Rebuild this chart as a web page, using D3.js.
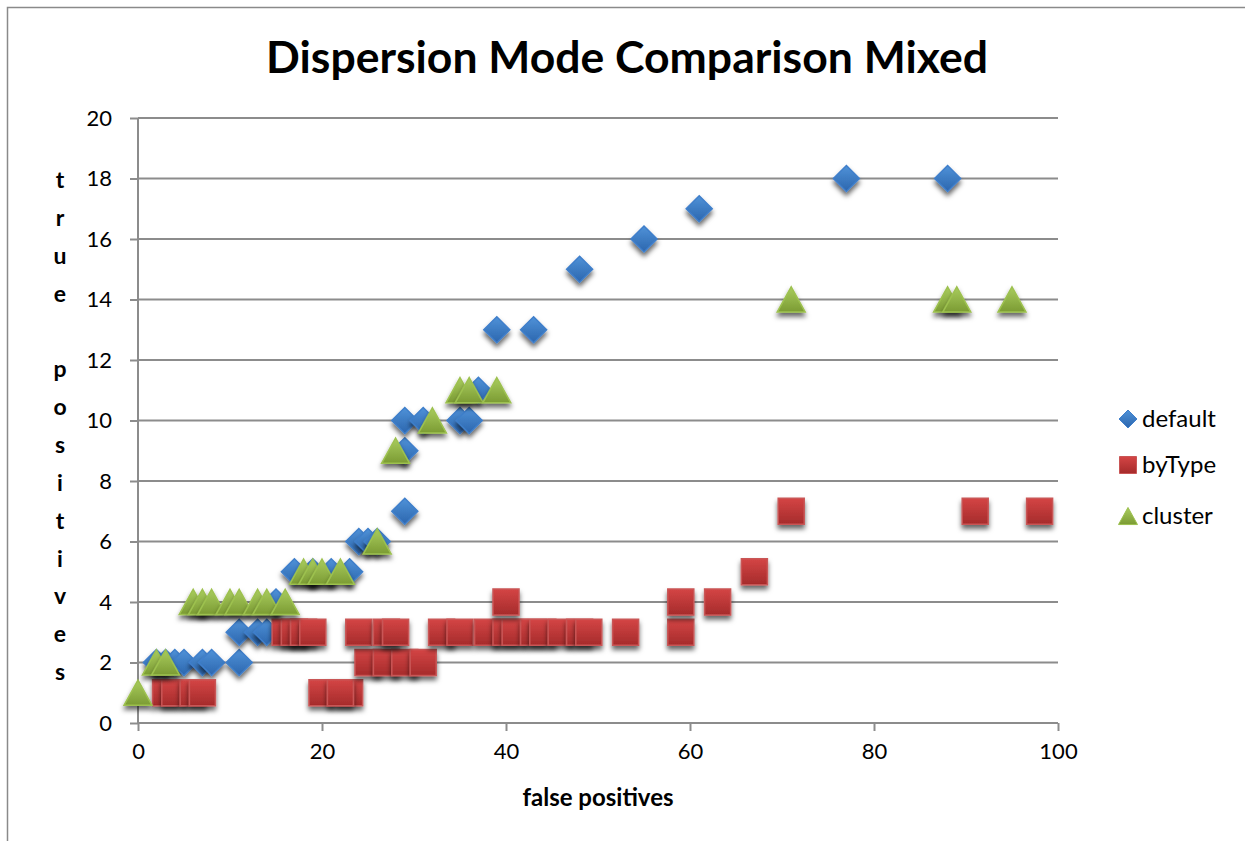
<!DOCTYPE html>
<html>
<head>
<meta charset="utf-8">
<script src="https://cdn.jsdelivr.net/npm/d3@7/dist/d3.min.js"></script>
<style>
  html, body { margin: 0; padding: 0; background: #fff; }
  svg { display: block; }
  text { font-family: Lato, "Open Sans", "DejaVu Sans", sans-serif; fill: #000; }
</style>
</head>
<body>
<svg id="chart" width="1245" height="841"></svg>
<script>
// ---- data: [false positives, true positives] ----
const defaultPts = [
  [2,2],[3,2],[4,2],[5,2],[7,2],[8,2],[11,2],
  [11,3],[13,3],[14,3],[15,4],
  [17,5],[19,5],[21,5],[23,5],
  [24,6],[25,6],[26,6],
  [29,7],[29,9],[29,10],[31,10],[35,10],[36,10],[37,11],
  [39,13],[43,13],[48,15],[55,16],[61,17],[77,18],[88,18]
];
const byTypePts = [
  [3,1],[4,1],[6,1],[7,1],
  [20,1],[23,1],[22,1],
  [25,2],[27,2],[29,2],[31,2],
  [16,3],[17,3],[18,3],[19,3],[24,3],[27,3],[28,3],
  [33,3],[35,3],[38,3],[40,3],[41,3],[43,3],[44,3],[46,3],[48,3],[49,3],[53,3],[59,3],
  [40,4],[59,4],[63,4],[67,5],
  [71,7],[91,7],[98,7]
];
const clusterPts = [
  [0,1],[2,2],[3,2],
  [6,4],[7,4],[8,4],[10,4],[11,4],[13,4],[14,4],[16,4],
  [18,5],[19,5],[20,5],[22,5],
  [26,6],[28,9],[32,10],[35,11],[36,11],[39,11],
  [71,14],[88,14],[89,14],[95,14]
];
const seriesNames = ["default", "byType", "cluster"];
const xTicks = [0, 20, 40, 60, 80, 100];
const yTicks = [0, 2, 4, 6, 8, 10, 12, 14, 16, 18, 20];
const titleText = "Dispersion Mode Comparison Mixed";
const xTitle = "false positives";
const yTitle = "true positives";

// ---- layout ----
const svg = d3.select("#chart");
const plot = { left: 138, right: 1058, top: 118, bottom: 723 };
const x = d3.scaleLinear().domain([0, 100]).range([plot.left, plot.right]);
const y = d3.scaleLinear().domain([0, 20]).range([plot.bottom, plot.top]);

// custom marker shapes for d3.symbol (size = full width in px)
const diamond = { draw(ctx, s) { const h = s / 2; ctx.moveTo(0, -h); ctx.lineTo(h, 0); ctx.lineTo(0, h); ctx.lineTo(-h, 0); ctx.closePath(); } };
const square  = { draw(ctx, s) { const h = s / 2; ctx.rect(-h, -h, s, s); } };
const triangle = { draw(ctx, s) { const w = s / 2, hh = s * 0.45; ctx.moveTo(0, -hh); ctx.lineTo(w, hh); ctx.lineTo(-w, hh); ctx.closePath(); } };

const defs = svg.append("defs");
function grad(id, top, bottom) {
  const g = defs.append("linearGradient").attr("id", id).attr("x1", 0).attr("y1", 0).attr("x2", 0).attr("y2", 1);
  g.append("stop").attr("offset", "0%").attr("stop-color", top);
  g.append("stop").attr("offset", "100%").attr("stop-color", bottom);
}
grad("gBlue", "#4f92d8", "#2c66ae");
grad("gRed", "#d44545", "#a52b2b");
grad("gGreen", "#a9cc5e", "#7b9b33");

const shadow = defs.append("filter").attr("id", "shadow")
  .attr("x", "-50%").attr("y", "-50%").attr("width", "200%").attr("height", "220%");
shadow.append("feDropShadow").attr("dx", 0).attr("dy", 4).attr("stdDeviation", 2.5)
  .attr("flood-color", "#000").attr("flood-opacity", 0.6);

// outer chart frame
svg.append("rect").attr("x", 7.5).attr("y", 7.5).attr("width", 1260).attr("height", 860)
  .attr("fill", "#fff").attr("stroke", "#8a8a8a").attr("stroke-width", 1.5);

// title
svg.append("text").attr("x", 627).attr("y", 73).attr("text-anchor", "middle")
  .attr("font-size", 44.5).attr("font-weight", 700).text(titleText);

// gridlines
svg.append("g").selectAll("line").data(yTicks).join("line")
  .attr("x1", plot.left).attr("x2", plot.right)
  .attr("y1", d => y(d)).attr("y2", d => y(d))
  .attr("stroke", "#8c8c8c").attr("stroke-width", 2);

// y axis
const yAxis = svg.append("g").attr("transform", `translate(${plot.left},0)`)
  .call(d3.axisLeft(y).tickValues(yTicks).tickSize(8).tickPadding(18));
yAxis.select(".domain").attr("stroke", "#8c8c8c").attr("stroke-width", 2).attr("d", `M0,${plot.top}V${plot.bottom}`);
yAxis.selectAll(".tick line").attr("stroke", "#8c8c8c").attr("stroke-width", 2);
yAxis.selectAll(".tick text").attr("font-size", 22).attr("font-family", "Lato").attr("fill", "#000");

// x axis
const xAxis = svg.append("g").attr("transform", `translate(0,${plot.bottom})`)
  .call(d3.axisBottom(x).tickValues(xTicks).tickSize(8).tickPadding(12));
xAxis.select(".domain").attr("stroke", "#8c8c8c").attr("stroke-width", 2).attr("d", `M${plot.left},0H${plot.right}`);
xAxis.selectAll(".tick line").attr("stroke", "#8c8c8c").attr("stroke-width", 2);
xAxis.selectAll(".tick text").attr("font-size", 22).attr("font-family", "Lato").attr("fill", "#000");

// axis titles
svg.append("text").attr("x", 598).attr("y", 806).attr("text-anchor", "middle")
  .attr("font-size", 24).attr("font-weight", 700).text(xTitle);
const yLetters = yTitle.split("");
svg.append("g").selectAll("text").data(yLetters).join("text")
  .attr("x", 60).attr("y", (d, i) => 188 + i * 37.85).attr("text-anchor", "middle")
  .attr("font-size", 23).attr("font-weight", 700).text(d => d.trim());

// series
const series = [
  { name: seriesNames[0], pts: defaultPts, shape: diamond, size: 26, fill: "url(#gBlue)", stroke: "#3f7fcb" },
  { name: seriesNames[1], pts: byTypePts, shape: square, size: 26, fill: "url(#gRed)", stroke: "#c95656" },
  { name: seriesNames[2], pts: clusterPts, shape: triangle, size: 28, fill: "url(#gGreen)", stroke: "#9dc14f" }
];

series.forEach(s => {
  const sym = d3.symbol().type(s.shape).size(s.size);
  svg.append("g").selectAll("path").data(s.pts).join("path")
    .attr("transform", d => `translate(${x(d[0])},${y(d[1])})`)
    .attr("d", sym)
    .attr("fill", s.fill).attr("stroke", s.stroke).attr("stroke-width", 1.5)
    .attr("filter", "url(#shadow)");
});

// legend
const legend = svg.append("g").selectAll("g").data(series).join("g")
  .attr("transform", (d, i) => `translate(1128,${[419, 465, 516][i]})`);
legend.append("path")
  .attr("d", d => d3.symbol().type(d.shape).size(d.shape === triangle ? 19 : (d.shape === square ? 17 : 18))())
  .attr("fill", d => d.fill).attr("stroke", d => d.stroke).attr("stroke-width", 1);
legend.append("text").attr("x", 14).attr("y", 8).attr("font-size", 24).text(d => d.name);
</script>
</body>
</html>
